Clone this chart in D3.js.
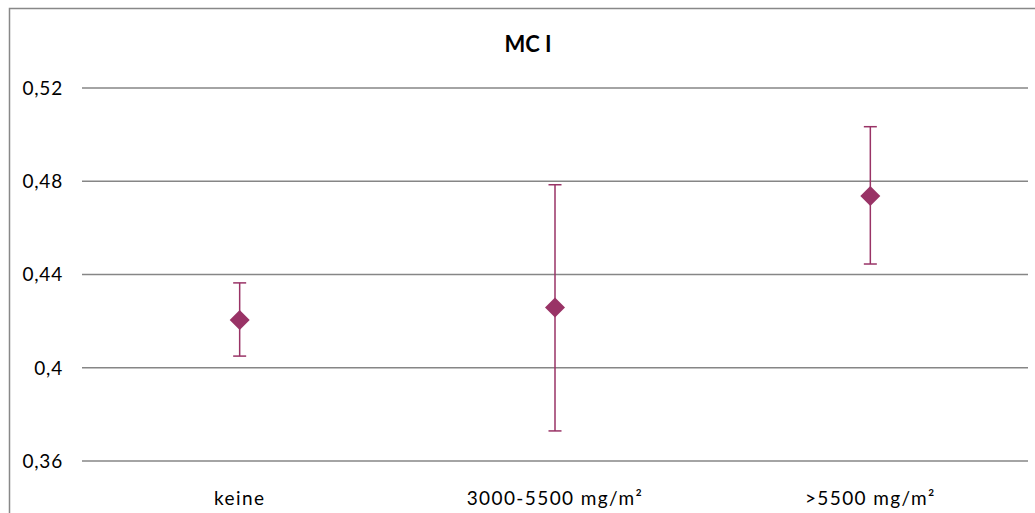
<!DOCTYPE html>
<html>
<head>
<meta charset="utf-8">
<script src="https://cdn.jsdelivr.net/npm/d3@7"></script>
<style>
  body { margin: 0; background: #fff; }
  svg { display: block; font-family: Lato, "Open Sans", sans-serif; }
</style>
</head>
<body>
<div id="chart"></div>
<script>
// data
var categories = ["keine", "3000-5500 mg/m²", ">5500 mg/m²"];
var means = [0.4205, 0.4258, 0.4737];
var upper = [0.4364, 0.4785, 0.5034];
var lower = [0.4050, 0.3729, 0.4445];
var yTicks = [0.36, 0.40, 0.44, 0.48, 0.52];
var tickLabels = ["0,36", "0,4", "0,44", "0,48", "0,52"];
var title = "MC I";

var W = 1035, H = 513;
var margin = { top: 88, right: 7, bottom: 52, left: 82 };
var color = "#993366";

var svg = d3.select("#chart").append("svg").attr("width", W).attr("height", H);

// chart border
svg.append("rect")
  .attr("x", 9.5).attr("y", 8.5)
  .attr("width", 1038).attr("height", 520)
  .attr("fill", "none").attr("stroke", "#888").attr("stroke-width", 1.5);

var x = d3.scaleBand().domain(categories).range([margin.left, W - margin.right]);
var y = d3.scaleLinear().domain([0.36, 0.52]).range([H - margin.bottom, margin.top]);

// gridlines
svg.append("g").selectAll("line")
  .data(yTicks).enter().append("line")
  .attr("x1", margin.left).attr("x2", W - margin.right)
  .attr("y1", function (d) { return y(d); })
  .attr("y2", function (d) { return y(d); })
  .attr("stroke", "#868686").attr("stroke-width", 1.5);

// y labels
svg.append("g").selectAll("text")
  .data(yTicks).enter().append("text")
  .attr("x", 63)
  .attr("y", function (d) { return y(d); })
  .attr("dy", "0.36em")
  .attr("text-anchor", "end")
  .style("font-size", "19px")
  .style("letter-spacing", "0.8px")
  .attr("fill", "#000")
  .text(function (d, i) { return tickLabels[i]; });

// x labels
svg.append("g").selectAll("text")
  .data(categories).enter().append("text")
  .attr("x", function (d) { return x(d) + x.bandwidth() / 2; })
  .attr("y", 505)
  .attr("text-anchor", "middle")
  .style("font-size", "19px")
  .style("letter-spacing", "1.4px")
  .attr("fill", "#000")
  .text(function (d) { return d; });

// title
svg.append("text")
  .attr("x", 528).attr("y", 52)
  .attr("text-anchor", "middle")
  .style("font-size", "22px")
  .style("font-weight", "bold")
  .text(title);

// error bars + diamonds
var pts = categories.map(function (c, i) {
  return { cat: c, m: means[i], hi: upper[i], lo: lower[i] };
});
var g = svg.append("g").selectAll("g").data(pts).enter().append("g")
  .attr("transform", function (d) { return "translate(" + (x(d.cat) + x.bandwidth() / 2) + ",0)"; });

g.append("line")
  .attr("x1", 0).attr("x2", 0)
  .attr("y1", function (d) { return y(d.hi); })
  .attr("y2", function (d) { return y(d.lo); })
  .attr("stroke", color).attr("stroke-width", 1.5);
g.selectAll(".cap").data(function (d) { return [d.hi, d.lo]; }).enter().append("line")
  .attr("class", "cap")
  .attr("x1", -6.5).attr("x2", 6.5)
  .attr("y1", function (d) { return y(d); })
  .attr("y2", function (d) { return y(d); })
  .attr("stroke", color).attr("stroke-width", 1.5);
g.append("path")
  .attr("d", "M0,-10L10,0L0,10L-10,0Z")
  .attr("transform", function (d) { return "translate(0," + y(d.m) + ")"; })
  .attr("fill", color);
</script>
</body>
</html>
